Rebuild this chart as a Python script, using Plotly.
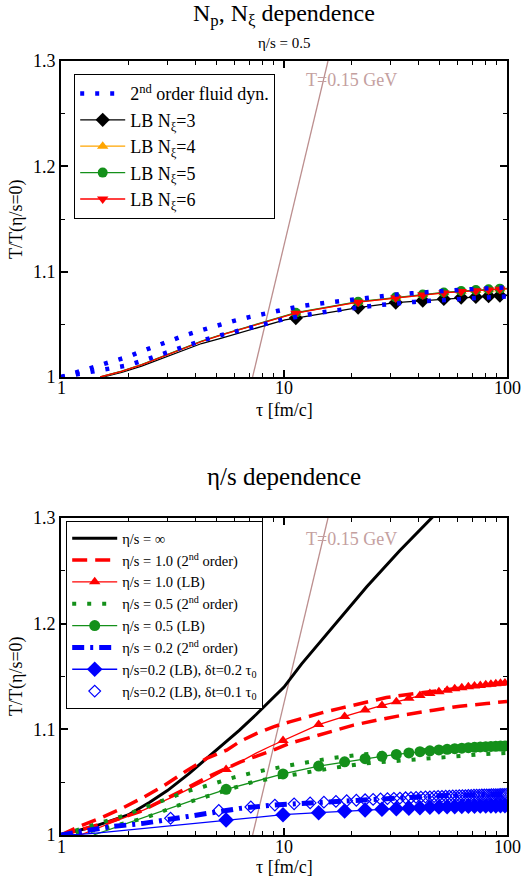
import math
import plotly.graph_objects as go

# ---------------- data ----------------
# Upper panel: eta/s = 0.5, 2nd order fluid dynamics (two curves)
tau_fd_top_a = [1.0, 1.2, 1.41, 1.66, 1.96, 2.28, 2.69, 3.14, 3.68, 4.32, 5.07, 5.97, 7.04, 8.3,
                9.83, 11.6, 13.7, 16.2, 19.1, 22.5, 26.8, 31.6, 37.4, 44.1, 52.4, 62.0, 73.1, 86.2, 100.0]
T_fd_top_a = [1.0, 1.0047, 1.0095, 1.0142, 1.0186, 1.0242, 1.0299, 1.0353, 1.0403, 1.0448, 1.0495,
              1.0533, 1.0571, 1.0606, 1.0634, 1.0669, 1.0691, 1.071, 1.0732, 1.0748, 1.077, 1.0782,
              1.0795, 1.0808, 1.0817, 1.0827, 1.0836, 1.0846, 1.0852]
tau_fd_top_b = [1.0, 1.2, 1.42, 1.69, 1.99, 2.34, 2.75, 3.22, 3.79, 4.44, 5.22, 6.15, 7.24, 8.51,
                10.0, 14.0, 16.5, 19.6, 27.4, 32.6, 38.4, 53.6, 63.7, 75.1, 100.0]
T_fd_top_b = [1.0, 1.0028, 1.006, 1.0085, 1.011, 1.0157, 1.0208, 1.0259, 1.0306, 1.0356, 1.0397,
              1.0438, 1.0476, 1.0514, 1.0549, 1.0606, 1.0628, 1.065, 1.0685, 1.0701, 1.0713, 1.0732,
              1.0745, 1.0751, 1.0765]

# Upper panel: lattice Boltzmann runs for several N_xi
tau_lb_top = [1.5, 1.87, 2.3, 2.83, 3.48, 4.27, 5.25, 6.46, 7.94, 10.1, 11.3, 21.5, 31.7, 41.9,
              52.1, 62.3, 72.5, 82.7, 92.9, 100.0]
tau_marks_top = [11.3, 21.5, 31.7, 41.9, 52.1, 62.3, 72.5, 82.7, 92.9]
T_lb_n3 = [0.9993, 1.0045, 1.0103, 1.0174, 1.0243, 1.0318, 1.0369, 1.0425, 1.0482, 1.0543, 1.0559,
           1.0659, 1.0707, 1.0726, 1.0741, 1.0754, 1.076, 1.0767, 1.0773, 1.0776]
T_lb_n4 = [1.0, 1.0054, 1.0117, 1.019, 1.026, 1.0338, 1.0401, 1.0456, 1.0512, 1.0575, 1.0608,
           1.0712, 1.0753, 1.0781, 1.08, 1.0813, 1.0822, 1.0829, 1.0836, 1.0839]
T_lb_n5 = [1.0, 1.0055, 1.0118, 1.0191, 1.0262, 1.034, 1.0403, 1.0458, 1.0514, 1.0577, 1.061,
           1.0715, 1.0756, 1.0784, 1.0803, 1.0816, 1.0825, 1.0832, 1.0839, 1.0842]
T_lb_n6 = [1.0, 1.0053, 1.0116, 1.0189, 1.0259, 1.0337, 1.04, 1.0455, 1.0511, 1.0574, 1.0606,
           1.071, 1.0751, 1.0779, 1.0798, 1.0811, 1.082, 1.0827, 1.0834, 1.0837]

# Lower panel: ideal fluid
tau_ideal = [1.0, 1.4, 2.0, 2.5, 3.0, 3.75, 4.5, 5.4, 6.3, 7.5, 8.5, 10.0, 12.0, 16.6, 23.5, 33.0, 46.0, 50.0]
T_ideal = [1.0, 1.008, 1.019, 1.031, 1.042, 1.058, 1.0725, 1.0865, 1.099, 1.114, 1.125, 1.14,
           1.162, 1.197, 1.235, 1.269, 1.3, 1.308]

# Lower panel: 2nd order fluid dynamics, eta/s = 1.0 (two curves)
tau_fd10_a = [1.0, 1.22, 1.5, 1.84, 2.34, 2.88, 3.6, 4.5, 5.53, 6.35, 7.54, 8.96, 10.6, 12.6, 15.0,
              17.8, 21.2, 25.0, 28.8, 36.0, 50.0, 70.0, 100.0]
T_fd10_a = [1.0, 1.0085, 1.016, 1.0243, 1.0356, 1.0463, 1.0598, 1.0725, 1.0803, 1.0885, 1.0961,
            1.1024, 1.1071, 1.1118, 1.116, 1.1198, 1.1238, 1.1269, 1.1301, 1.133, 1.137, 1.1405, 1.1435]
tau_fd10_b = [1.0, 1.3, 1.66, 2.26, 2.88, 3.6, 4.5, 5.7, 6.35, 7.54, 8.96, 10.6, 12.2, 16.1, 20.5,
              27.0, 35.5, 46.8, 61.5, 81.0, 100.0]
T_fd10_b = [1.0, 1.0063, 1.0126, 1.022, 1.0331, 1.0435, 1.0545, 1.064, 1.069, 1.0747, 1.0803,
            1.0867, 1.0905, 1.0976, 1.104, 1.1093, 1.1141, 1.1181, 1.1219, 1.1244, 1.1264]

# Lower panel: 2nd order fluid dynamics, eta/s = 0.5 (two curves)
tau_fd05_a = [1.0, 1.22, 1.42, 1.66, 1.95, 2.28, 2.69, 3.15, 3.7, 4.35, 5.08, 5.97, 7.04, 8.2,
              11.6, 16.1, 23.0, 35.0, 50.0, 70.0, 100.0]
T_fd05_a = [1.0, 1.0054, 1.0095, 1.0142, 1.0189, 1.0246, 1.0306, 1.0362, 1.0416, 1.0457, 1.0504,
            1.0545, 1.0583, 1.0614, 1.0674, 1.0725, 1.0765, 1.0795, 1.0815, 1.083, 1.0843]
tau_fd05_b = [1.0, 1.3, 1.66, 2.0, 2.34, 2.76, 3.22, 4.45, 5.23, 7.28, 8.51, 11.8, 16.3, 23.0,
              38.0, 53.6, 63.7, 75.5, 89.5, 100.0]
T_fd05_b = [1.0, 1.003, 1.0075, 1.0115, 1.0158, 1.0211, 1.0268, 1.0362, 1.041, 1.0504, 1.053,
            1.0586, 1.0632, 1.0678, 1.0718, 1.0741, 1.075, 1.0763, 1.0772, 1.0776]

# Lower panel: 2nd order fluid dynamics, eta/s = 0.2
tau_fd02 = [1.0, 1.3, 1.66, 2.34, 3.3, 4.66, 6.35, 9.0, 12.4, 17.2, 24.7, 34.2, 48.6, 61.5, 89.5, 100.0]
T_fd02 = [1.0, 1.004, 1.0078, 1.011, 1.0158, 1.0205, 1.0252, 1.0284, 1.03, 1.0324, 1.0346, 1.0362,
          1.0369, 1.0378, 1.0385, 1.0387]

# Lower panel: lattice Boltzmann runs
tau_marks_bot = [5.5, 9.9, 14.3, 18.7, 23.1, 27.5, 31.9, 36.3, 40.7, 45.1, 49.5, 53.9, 58.3, 62.7,
                 67.1, 71.5, 75.9, 80.3, 84.7, 89.1, 93.5, 97.9]
tau_lb10 = [1.22, 1.66, 2.34, 3.3, 4.66, 5.5, 6.35, 7.5, 8.6, 9.9, 14.3, 18.7, 23.1, 27.5, 31.9,
            36.3, 40.7, 45.1, 49.5, 53.9, 58.3, 62.7, 67.1, 71.5, 75.9, 80.3, 84.7, 89.1, 93.5, 97.9]
T_lb10 = [1.0, 1.011, 1.0236, 1.0378, 1.0536, 1.062, 1.0693, 1.0775, 1.0835, 1.0895, 1.1045, 1.1122,
          1.1183, 1.1226, 1.126, 1.1295, 1.132, 1.134, 1.1355, 1.137, 1.1383, 1.1393, 1.1403, 1.141,
          1.1416, 1.1422, 1.1427, 1.1431, 1.1435, 1.1438]
tau_lb05 = [1.4, 1.97, 2.78, 3.92, 5.5, 9.9, 14.3, 18.7, 23.1, 27.5, 31.9, 36.3, 40.7, 45.1, 49.5,
            53.9, 58.3, 62.7, 67.1, 71.5, 75.9, 80.3, 84.7, 89.1, 93.5, 97.9]
T_lb05 = [1.0, 1.011, 1.022, 1.0331, 1.0432, 1.0578, 1.0652, 1.0693, 1.0722, 1.0745, 1.0763, 1.0777,
          1.0788, 1.0797, 1.0805, 1.0811, 1.0817, 1.0822, 1.0826, 1.083, 1.0833, 1.0836, 1.0838,
          1.084, 1.0842, 1.0843]
tau_lb02 = [1.1, 1.4, 1.97, 2.78, 3.92, 5.5, 9.9, 14.3, 18.7, 23.1, 27.5, 31.9, 36.3, 40.7, 45.1,
            49.5, 53.9, 58.3, 62.7, 67.1, 71.5, 75.9, 80.3, 84.7, 89.1, 93.5, 97.9]
T_lb02 = [1.0, 1.0016, 1.0047, 1.0078, 1.011, 1.0142, 1.0192, 1.0211, 1.0227, 1.0236, 1.0243,
          1.0249, 1.0254, 1.0258, 1.0262, 1.0265, 1.0267, 1.0269, 1.0271, 1.0272, 1.0273, 1.0274,
          1.0275, 1.0276, 1.0276, 1.0277, 1.0277]
tau_lb02_fine = [3.1, 5.1, 7.1, 9.1, 11.1, 13.1, 15.1, 17.1, 19.1, 21.1, 23.1, 25.1, 27.1, 29.1,
                 31.1, 33.1, 35.1, 37.1, 39.1, 41.1, 43.1, 45.1, 47.1, 49.1, 51.1, 53.1, 55.1, 57.1,
                 59.1, 61.1, 63.1, 65.1, 67.1, 69.1, 71.1, 73.1, 75.1, 77.1, 79.1, 81.1, 83.1, 85.1,
                 87.1, 89.1, 91.1, 93.1, 95.1, 97.1, 99.1]
T_lb02_fine = [1.0158, 1.0232, 1.0265, 1.0283, 1.0295, 1.0304, 1.0311, 1.0318, 1.0324, 1.0329,
               1.0333, 1.0337, 1.0341, 1.0344, 1.0347, 1.0349, 1.0352, 1.0354, 1.0356, 1.0358,
               1.036, 1.0361, 1.0363, 1.0364, 1.0366, 1.0367, 1.0368, 1.0369, 1.037, 1.0371,
               1.0372, 1.0373, 1.0374, 1.0375, 1.0376, 1.0377, 1.0377, 1.0378, 1.0379, 1.0379,
               1.038, 1.0381, 1.0381, 1.0382, 1.0382, 1.0383, 1.0383, 1.0384, 1.0384]

# T = 0.15 GeV isotherm
tau_iso = [7.23, 15.75]
T_iso = [1.0, 1.3]

# axis ticks
x_ticks = [1, 10, 100]
x_tick_text = ["1", "10", "100"]
y_ticks = [1.0, 1.1, 1.2, 1.3]
y_tick_text = ["1", "1.1", "1.2", "1.3"]

# ---------------- styling ----------------
FONT = "Liberation Serif, Times New Roman, Times, serif"
RED = "#ff0000"
GREEN = "#14901a"
BLUE = "#0000ff"
ORANGE = "#ffa500"
BLACK = "#000000"
ISO = "#bc8f8f"

W, H = 532, 881
ML, MR, MT, MB = 61, 25, 61, 46
PLOT_H = H - MT - MB


def ypap(p):
    """pixel row -> paper fraction"""
    return (H - MB - p) / PLOT_H


def xpap(p):
    return (p - ML) / (W - ML - MR)


def marked(tau, marks):
    s = set(marks)
    return [i for i, t in enumerate(tau) if t in s]


fig = go.Figure()


def add_line(tau, T, axes, legend, name=None, color=BLACK, width=2, dash="solid",
             show=True, group=None, rank=1000):
    fig.add_trace(go.Scatter(
        x=tau, y=T, mode="lines", name=name, xaxis=axes[0], yaxis=axes[1],
        line=dict(color=color, width=width, dash=dash), legendrank=rank,
        showlegend=show, legendgroup=group, legend=legend, hoverinfo="skip"))


def add_lb(tau, T, marks, axes, legend, name, color, symbol, size, rank=1000):
    fig.add_trace(go.Scatter(
        x=tau, y=T, mode="lines+markers", name=name, xaxis=axes[0], yaxis=axes[1],
        line=dict(color=color, width=1.3),
        marker=dict(color=color, symbol=symbol, size=size, line=dict(width=0)),
        selectedpoints=marked(tau, marks),
        selected=dict(marker=dict(opacity=1)),
        unselected=dict(marker=dict(opacity=0)),
        legendrank=rank, legend=legend, hoverinfo="skip"))


TOP = ("x", "y")
BOT = ("x2", "y2")

# isotherms
add_line(tau_iso, T_iso, TOP, "legend", color=ISO, width=1.3, show=False)
add_line(tau_iso, T_iso, BOT, "legend2", color=ISO, width=1.3, show=False)

# ---- upper panel ----
DOTS = "4px,11px"
add_lb(tau_lb_top, T_lb_n3, tau_marks_top, TOP, "legend", "LB N<sub>ξ</sub>=3", BLACK,
       "diamond", 11, rank=2)
add_lb(tau_lb_top, T_lb_n4, tau_marks_top, TOP, "legend", "LB N<sub>ξ</sub>=4", ORANGE,
       "triangle-up", 10, rank=3)
add_lb(tau_lb_top, T_lb_n5, tau_marks_top, TOP, "legend", "LB N<sub>ξ</sub>=5", GREEN,
       "circle", 10, rank=4)
add_lb(tau_lb_top, T_lb_n6, tau_marks_top, TOP, "legend", "LB N<sub>ξ</sub>=6", RED,
       "triangle-down", 10, rank=5)
add_line(tau_fd_top_a, T_fd_top_a, TOP, "legend", name="2<sup>nd</sup> order fluid dyn.",
         color=BLUE, width=4.5, dash=DOTS, group="fdtop", rank=1)
add_line(tau_fd_top_b, T_fd_top_b, TOP, "legend", color=BLUE, width=4.5, dash=DOTS,
         show=False, group="fdtop", rank=1)

# ---- lower panel ----
DASH = "15px,8px"
DASHDOT = "12px,6px,3px,6px"
add_line(tau_ideal, T_ideal, BOT, "legend2", name="η/s = ∞", color=BLACK, width=3)
add_line(tau_fd10_a, T_fd10_a, BOT, "legend2", name="η/s = 1.0 (2<sup>nd</sup> order)",
         color=RED, width=3.5, dash=DASH, group="fd10")
add_line(tau_fd10_b, T_fd10_b, BOT, "legend2", color=RED, width=3.5, dash=DASH, show=False,
         group="fd10")
add_lb(tau_lb10, T_lb10, tau_marks_bot, BOT, "legend2", "η/s = 1.0 (LB)", RED, "triangle-up", 10)
add_line(tau_fd05_a, T_fd05_a, BOT, "legend2", name="η/s = 0.5 (2<sup>nd</sup> order)",
         color=GREEN, width=4, dash=DOTS, group="fd05")
add_line(tau_fd05_b, T_fd05_b, BOT, "legend2", color=GREEN, width=4, dash=DOTS, show=False,
         group="fd05")
add_lb(tau_lb05, T_lb05, tau_marks_bot, BOT, "legend2", "η/s = 0.5 (LB)", GREEN, "circle", 11)
add_line(tau_fd02, T_fd02, BOT, "legend2", name="η/s = 0.2 (2<sup>nd</sup> order)",
         color=BLUE, width=5, dash=DASHDOT)
add_lb(tau_lb02, T_lb02, tau_marks_bot, BOT, "legend2",
       "η/s=0.2 (LB), δt=0.2 τ<sub>0</sub>", BLUE, "diamond", 12)
fig.add_trace(go.Scatter(
    x=tau_lb02_fine, y=T_lb02_fine, mode="markers", name="η/s=0.2 (LB), δt=0.1 τ<sub>0</sub>",
    xaxis="x2", yaxis="y2", legend="legend2", hoverinfo="skip",
    marker=dict(symbol="diamond-open", size=9, color=BLUE, line=dict(width=1.2, color=BLUE))))

# ---------------- axes ----------------
axis_common = dict(
    showline=True, linewidth=2, linecolor=BLACK, mirror="allticks", ticks="inside",
    ticklen=7, tickwidth=1.5, tickcolor=BLACK, showgrid=False, zeroline=False,
    tickfont=dict(family=FONT, size=18, color=BLACK))

# x tick labels are placed as annotations (closer to the axis than the default)
xax = dict(axis_common, type="log", range=[0, 2], tickvals=x_ticks, showticklabels=False,
           minor=dict(ticks="inside", ticklen=4, tickwidth=1.2, tickcolor=BLACK,
                      tickvals=[2, 3, 4, 5, 6, 7, 8, 9, 20, 30, 40, 50, 60, 70, 80, 90],
                      showgrid=False))
yax = dict(axis_common, range=[1.0, 1.3], tickvals=y_ticks, ticktext=y_tick_text,
           minor=dict(ticks="inside", ticklen=4, tickwidth=1.2, tickcolor=BLACK,
                      tickvals=[1.05, 1.15, 1.25], showgrid=False))

top_dom = [ypap(377), 1.0]
bot_dom = [0.0, ypap(518)]

legend_common = dict(bgcolor="white", bordercolor=BLACK, borderwidth=1.2,
                     xanchor="left", yanchor="top", itemwidth=45, traceorder="normal",
                     tracegroupgap=0)

fig.update_layout(
    width=W, height=H, autosize=False,
    margin=dict(l=ML, r=MR, t=MT, b=MB, pad=0),
    paper_bgcolor="white", plot_bgcolor="white",
    font=dict(family=FONT, color=BLACK),
    xaxis=dict(xax, domain=[0, 1], anchor="y"),
    yaxis=dict(yax, domain=top_dom, anchor="x"),
    xaxis2=dict(xax, domain=[0, 1], anchor="y2"),
    yaxis2=dict(yax, domain=bot_dom, anchor="x2"),
    legend=dict(legend_common, x=xpap(74), y=ypap(74),
                font=dict(family=FONT, size=18, color=BLACK)),
    legend2=dict(legend_common, x=xpap(66), y=ypap(521),
                 font=dict(family=FONT, size=14.5, color=BLACK)),
    showlegend=True,
)

for xref, yrow in (("x", 388), ("x2", 847)):
    for tv, tt in zip(x_ticks, x_tick_text):
        fig.add_annotation(text=tt, xref=xref, yref="paper", x=math.log10(tv), y=ypap(yrow),
                           xanchor="center", yanchor="middle", showarrow=False,
                           font=dict(family=FONT, size=18, color=BLACK))

ann = [
    dict(text="N<sub>p</sub>, N<sub>ξ</sub> dependence", x=0.5, y=ypap(15), size=24),
    dict(text="η/s = 0.5", x=0.5, y=ypap(43), size=15),
    dict(text="η/s dependence", x=0.5, y=ypap(477), size=25),
    dict(text="τ [fm/c]", x=0.5, y=ypap(410), size=18),
    dict(text="τ [fm/c]", x=0.5, y=ypap(867), size=18),
]
for a in ann:
    fig.add_annotation(text=a["text"], xref="paper", yref="paper", x=a["x"], y=a["y"],
                       xanchor="center", yanchor="middle", showarrow=False,
                       font=dict(family=FONT, size=a["size"], color=BLACK))

for yc in (ypap(219), ypap(676)):
    fig.add_annotation(text="T/T(η/s=0)", xref="paper", yref="paper", x=xpap(16), y=yc,
                       xanchor="center", yanchor="middle", textangle=-90, showarrow=False,
                       font=dict(family=FONT, size=18, color=BLACK))

for yc in (ypap(80), ypap(539)):
    fig.add_annotation(text="T=0.15 GeV", xref="paper", yref="paper", x=xpap(304), y=yc,
                       xanchor="left", yanchor="middle", showarrow=False,
                       font=dict(family=FONT, size=18, color="#c4a0a0"))

fig.write_html("out.html")
